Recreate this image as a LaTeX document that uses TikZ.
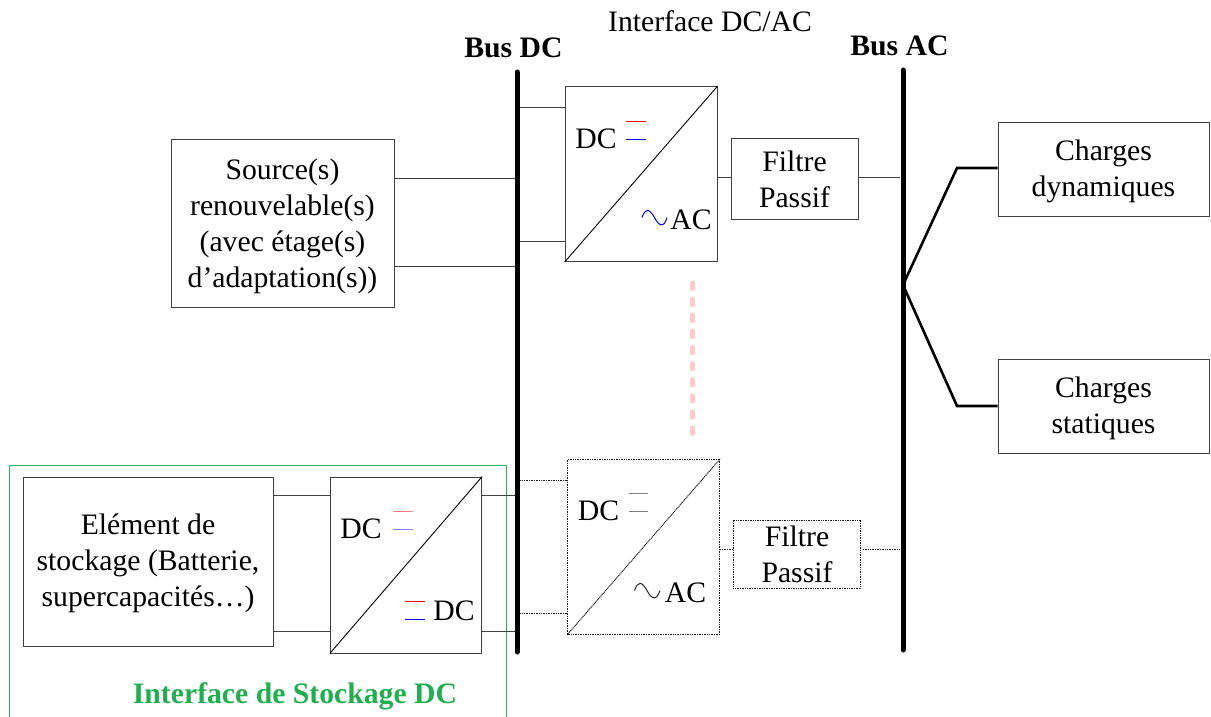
\documentclass[tikz,border=0pt]{standalone}
\usepackage{fontspec}
\setmainfont{Liberation Serif}
\definecolor{linegray}{gray}{0.25}
\definecolor{greenbox}{HTML}{2DB55D}
\definecolor{greentext}{HTML}{1FAF4E}
\definecolor{pinkdash}{HTML}{FFC9CD}
\definecolor{softred}{HTML}{FF7F7F}
\definecolor{softblue}{HTML}{7F7FFF}
\newcommand{\topgap}[1]{\rule{0pt}{#1}}
\tikzset{
  lbl/.style={inner sep=0pt,font=\fontsize{29.7}{36}\selectfont,align=center},
  boxn/.style={draw=linegray,line width=1pt,fill=white,inner sep=0pt,lbl},
  finedots/.style={dash pattern=on 1pt off 0.7pt},
  dotbox/.style={boxn,draw=black!90,line width=1pt,finedots},
  wire/.style={draw=linegray,line width=1pt},
  dotwire/.style={draw=black!90,line width=1pt,finedots},
  diag/.style={draw=black,line width=0.9pt},
  busline/.style={draw=black,line width=5pt,line cap=round},
  loadline/.style={draw=black,line width=2.6pt,line join=miter},
  tick/.style={line width=1pt},
  wave/.style={line width=1pt},
  buslabel/.style={inner sep=0pt,font=\fontsize{29.7}{32}\selectfont\bfseries},
}
\begin{document}
\begin{tikzpicture}[x=1pt,y=-1pt]
\useasboundingbox[fill=white] (0,0) rectangle (1211,717);

% green frame (open at the bottom)
\coordinate (gbl) at (9.5,717);
\coordinate (gtl) at (9.5,465.5);
\coordinate (gtr) at (506.5,465.5);
\coordinate (gbr) at (506.5,717);
\draw[greenbox,line width=1pt] (gbl) -- (gtl) -- (gtr) -- (gbr);
\node[inner sep=0pt,text=greentext,font=\fontsize{29.7}{32}\selectfont\bfseries] (gtitle) at (295,696.5) {Interface de Stockage DC};

% buses
\coordinate (dct) at (517,72);
\coordinate (dcb) at (517,652);
\coordinate (act) at (903,70);
\coordinate (acb) at (903,650);
\node[buslabel] (busdc) at (513.5,48) {Bus DC};
\node[buslabel] (busac) at (899.5,45.5) {Bus AC};
\node[lbl] (ifacetitle) at (710,21) {Interface DC/AC};

% boxes
\node[boxn,minimum width=223pt,minimum height=168pt] (src) at (282.5,223) {\topgap{28pt}Source(s)\\renouvelable(s)\\(avec étage(s)\\d’adaptation(s))};
\node[boxn,minimum width=152pt,minimum height=175pt] (conva) at (641,174.2) {};
\node[boxn,minimum width=127pt,minimum height=81pt] (filta) at (794.5,178.5) {\topgap{22.3pt}Filtre\\Passif};
\node[dotbox,minimum width=152pt,minimum height=175pt] (convb) at (643.7,546.8) {};
\node[dotbox,minimum width=127.5pt,minimum height=68.5pt] (filtb) at (797,554.3) {\topgap{21.3pt}Filtre\\Passif};
\node[boxn,minimum width=250pt,minimum height=168.5pt] (stor) at (148,562) {\topgap{24.3pt}Elément de\\stockage (Batterie,\\supercapacités…)};
\node[boxn,minimum width=151.4pt,minimum height=176pt] (convc) at (406,565) {};
\node[boxn,minimum width=211pt,minimum height=94pt] (dyn) at (1103.5,169) {\topgap{26.3pt}Charges\\dynamiques};
\node[boxn,minimum width=211pt,minimum height=94pt] (stat) at (1103.5,406) {\topgap{26.3pt}Charges\\statiques};

% diagonals
\draw[diag] (conva.south west) -- (conva.north east);
\draw[diag,finedots] (convb.south west) -- (convb.north east);
\draw[diag] (convc.south west) -- (convc.north east);

% bus tap points
\coordinate (t1) at (517,178);
\coordinate (t2) at (517,266);
\coordinate (t3) at (517,107.7);
\coordinate (t4) at (517,241);
\coordinate (t5) at (517,480.3);
\coordinate (t6) at (517,613.3);
\coordinate (t7) at (517,495.7);
\coordinate (t8) at (517,631.3);
\coordinate (ta) at (900,177.5);
\coordinate (tb) at (900,549.5);
\coordinate (fork) at (903,285);
\coordinate (kneeup) at (957,168);
\coordinate (kneedn) at (957,406);
\coordinate (gapb) at (863,549.5);

% connectors
\draw[wire] (src.east |- t1) -- (t1);
\draw[wire] (src.east |- t2) -- (t2);
\draw[wire] (t3) -- (conva.west |- t3);
\draw[wire] (t4) -- (conva.west |- t4);
\draw[wire] (conva.east |- ta) -- (filta.west |- ta);
\draw[wire] (filta.east |- ta) -- (ta);
\draw[dotwire] (t5) -- (convb.west |- t5);
\draw[dotwire] (t6) -- (convb.west |- t6);
\draw[dotwire] (convb.east |- tb) -- (filtb.west |- tb);
\draw[dotwire] (gapb) -- (tb);
\draw[wire] (stor.east |- t7) -- (convc.west |- t7);
\draw[wire] (stor.east |- t8) -- (convc.west |- t8);
\draw[wire] (convc.east |- t7) -- (t7);
\draw[wire] (convc.east |- t8) -- (t8);
\draw[loadline] (fork) -- (kneeup) -- (dyn.west |- kneeup);
\draw[loadline] (fork) -- (kneedn) -- (stat.west |- kneedn);

% buses on top
\draw[busline] (dct) -- (dcb);
\draw[busline] (act) -- (acb);

% dashed continuation
\coordinate (pta) at (692.5,283);
\coordinate (ptb) at (692.5,435);
\draw[pinkdash,line width=5pt,line cap=round,dash pattern=on 5.5pt off 10.6pt] (pta) -- (ptb);

% converter labels
\node[lbl] (dca) at (596,138.5) {DC};
\node[lbl] (aca) at (691,220) {AC};
\node[lbl] (dcb1) at (598.5,511) {DC};
\node[lbl] (acb1) at (685.5,592.5) {AC};
\node[lbl] (dcc1) at (361,529) {DC};
\node[lbl] (dcc2) at (454,611) {DC};

% DC symbols
\draw[tick,red] (626,121.3) -- (646,121.3);
\draw[tick,blue] (626,139.3) -- (646,139.3);
\draw[tick,gray] (628.7,493.3) -- (648,493.3);
\draw[tick,gray] (628.7,511.7) -- (648,511.7);
\draw[tick,softred] (393,511.7) -- (413,511.7);
\draw[tick,softblue] (393,529.7) -- (413,529.7);
\draw[tick,red] (405,601) -- (425,601);
\draw[tick,blue] (405,619.3) -- (425,619.3);

% AC symbols
\draw[wave,blue] (642,217.5) .. controls (645.5,208) and (649,208) .. (654.5,217.5) .. controls (659,226.5) and (664,228) .. (667,217.5);
\draw[wave,black!85] (634.5,590.5) .. controls (638,581) and (641.5,581) .. (647,590.5) .. controls (651.5,599.5) and (656.5,601) .. (660,590.5);
\end{tikzpicture}
\end{document}
